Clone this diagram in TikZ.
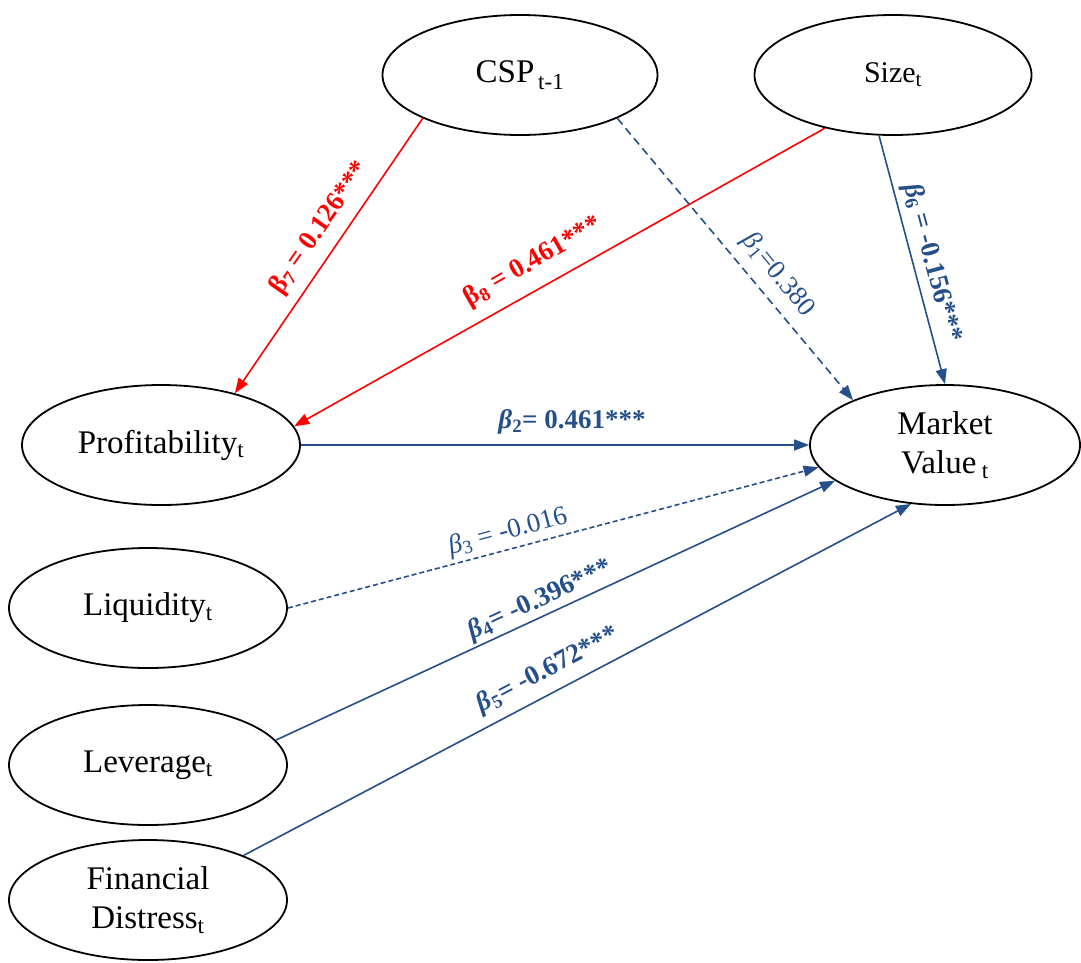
\documentclass[tikz,border=0pt]{standalone}
\usepackage{fontspec}
\setmainfont{Liberation Serif}
\usetikzlibrary{shapes.geometric,arrows.meta}
\definecolor{navy}{RGB}{36,79,138}
\begin{document}
\begin{tikzpicture}[x=1pt,y=-1pt,
  var/.style={ellipse,draw=black,line width=1.8pt,minimum width=278pt,minimum height=120pt,inner sep=0pt,align=center,font=\fontsize{33}{39}\selectfont},
  blnk/.style={draw=navy,line width=1.6pt,-{Triangle[length=15pt,width=11pt]}},
  rlnk/.style={draw=red,line width=1.6pt,-{Triangle[length=15pt,width=11pt]}},
  dshA/.style={dash pattern=on 8pt off 5pt},
  dshB/.style={dash pattern=on 5pt off 3pt},
  lab/.style={font=\fontsize{27}{30}\selectfont\bfseries,text=navy,inner sep=0pt},
  labn/.style={font=\fontsize{27}{30}\selectfont,text=navy,inner sep=0pt},
  labr/.style={font=\fontsize{27}{30}\selectfont\bfseries,text=red,inner sep=0pt}
]
\useasboundingbox (0,0) rectangle (1081,962);

\node[var,minimum width=275pt] (csp) at (520,75) {CSP\textsubscript{\,t-1}};
\node[var,minimum width=277pt,font=\fontsize{30}{36}\selectfont] (size) at (893,75) {Size\textsubscript{t}};
\node[var] (prof) at (161,445) {Profitability\textsubscript{t}};
\node[var,minimum width=270pt] (mv) at (945,445) {Market\\Value\,\textsubscript{t}};
\node[var] (liq) at (148,608) {Liquidity\textsubscript{t}};
\node[var] (lev) at (148,765) {Leverage\textsubscript{t}};
\node[var] (fd) at (148,900) {Financial\\Distress\textsubscript{t}};

\draw[rlnk] (csp.204) -- (prof.35);
\draw[rlnk] (size.218) -- (prof.8);
\draw[blnk,dshA] (csp.336) -- (mv.154);
\draw[blnk] (size.257) -- (mv.90);
\draw[blnk] (prof.east) -- (mv.west);
\draw[blnk,dshB] (liq.east) -- (mv.190);
\draw[blnk] (lev.11) -- (mv.198);
\draw[blnk] (fd.25) -- (mv.240);

\node[labr,rotate=55] (l7) at (320,228) {β\textsubscript{7} = 0.126***};
\node[labr,rotate=30] (l8) at (533,262) {β\textsubscript{8} = 0.461***};
\node[labn,rotate=-50.5] (l1) at (778,275) {\textit{β}\textsubscript{1}=0.380};
\node[lab,rotate=-75] (l6) at (932,263) {\textit{β}\textsubscript{6} = -0.156***};
\node[lab] (l2) at (572,422) {\textit{β}\textsubscript{2}= 0.461***};
\node[labn,rotate=15] (l3) at (508,532) {\textit{β}\textsubscript{3} = -0.016};
\node[lab,rotate=25] (l4) at (540,600) {\textit{β}\textsubscript{4}= -0.396***};
\node[lab,rotate=27.7] (l5) at (548,670) {\textit{β}\textsubscript{5}= -0.672***};
\end{tikzpicture}
\end{document}
